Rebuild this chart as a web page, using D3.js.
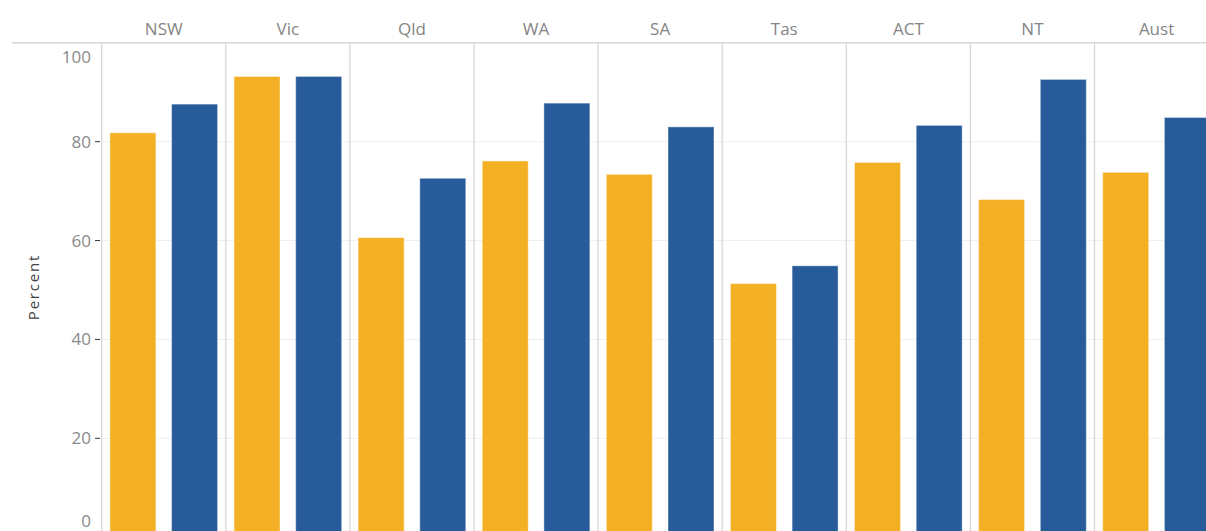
<!DOCTYPE html>
<html>
<head>
<meta charset="utf-8">
<script src="https://cdn.jsdelivr.net/npm/d3@7"></script>
<style>
  html, body { margin: 0; padding: 0; background: #fff; }
  svg { display: block; }
  text { font-family: "Open Sans", "Noto Sans", sans-serif; }
</style>
</head>
<body>
<svg id="chart" width="1206" height="531"></svg>
<script>
const categories = ["NSW", "Vic", "Qld", "WA", "SA", "Tas", "ACT", "NT", "Aust"];
const seriesNames = ["Series A", "Series B"];
const seriesA = [81.8, 93.2, 60.6, 76.1, 73.4, 51.3, 75.8, 68.3, 73.8];
const seriesB = [87.6, 93.2, 72.6, 87.8, 83.0, 54.9, 83.3, 92.6, 84.9];
const yTicks = [0, 20, 40, 60, 80, 100];
const colors = ["#f3b024", "#275b99"];

(function () {
const svg = d3.select("#chart");
const W = 1206, H = 531;
const paneLeft = 101.7, paneW = 124.1;
const plotTop = 42.8, plotBottom = 537.2;

const x = d3.scaleBand().domain(categories).range([paneLeft, paneLeft + paneW * categories.length]);
const xs = d3.scaleBand().domain(seriesNames).range([0, x.bandwidth()]).paddingInner(0.254).paddingOuter(0.133);
const y = d3.scaleLinear().domain([0, 100]).range([plotBottom, plotTop]);

// gridlines
svg.append("g").selectAll("line").data(yTicks.filter(t => t > 0 && t < 100)).join("line")
  .attr("x1", paneLeft).attr("x2", W)
  .attr("y1", d => y(d)).attr("y2", d => y(d))
  .attr("stroke", "#efefef").attr("stroke-width", 1);

// bars
const rows = categories.map((c, i) => ({ cat: c, vals: [seriesA[i], seriesB[i]] }));
const g = svg.append("g");
rows.forEach(r => {
  r.vals.forEach((v, j) => {
    g.append("rect")
      .attr("x", x(r.cat) + xs(seriesNames[j]))
      .attr("y", y(v))
      .attr("width", xs.bandwidth())
      .attr("height", y(0) - y(v))
      .attr("fill", colors[j])
      .attr("stroke", "rgba(255,255,255,0.45)")
      .attr("stroke-width", 1);
  });
});

// pane separators
svg.append("g").selectAll("line").data(categories).join("line")
  .attr("x1", d => x(d)).attr("x2", d => x(d))
  .attr("y1", plotTop).attr("y2", H)
  .attr("stroke", "#d6d6d6").attr("stroke-width", 1.3);

// top header line
svg.append("line").attr("x1", 12).attr("x2", W).attr("y1", plotTop).attr("y2", plotTop)
  .attr("stroke", "#d6d6d6").attr("stroke-width", 1.5);

// header labels
svg.append("g").selectAll("text").data(categories).join("text")
  .attr("x", d => x(d) + x.bandwidth() / 2)
  .attr("y", 35)
  .attr("text-anchor", "middle")
  .attr("font-size", 17)
  .attr("fill", "#858585")
  .text(d => d);

// y axis tick marks (inner ticks only)
svg.append("g").selectAll("line").data(yTicks.filter(t => t > 0 && t < 100)).join("line")
  .attr("x1", 95).attr("x2", 100)
  .attr("y1", d => y(d)).attr("y2", d => y(d))
  .attr("stroke", "#333").attr("stroke-width", 1);

// y tick labels (end labels nudged inside the pane like the reference)
svg.append("g").selectAll("text").data(yTicks).join("text")
  .attr("x", 91)
  .attr("y", d => {
    let yy = y(d);
    if (d === 100) yy = plotTop + 14;
    if (d === 0) yy = H - 10;
    return yy;
  })
  .attr("dy", "0.35em")
  .attr("text-anchor", "end")
  .attr("font-size", 17)
  .attr("fill", "#8a8a8a")
  .text(d => d);

// y axis title
svg.append("text")
  .attr("transform", "translate(39, 287) rotate(-90)")
  .attr("text-anchor", "middle")
  .attr("font-size", 15)
  .attr("letter-spacing", "1.8px")
  .attr("fill", "#444")
  .text("Percent");
})();
</script>
</body>
</html>
